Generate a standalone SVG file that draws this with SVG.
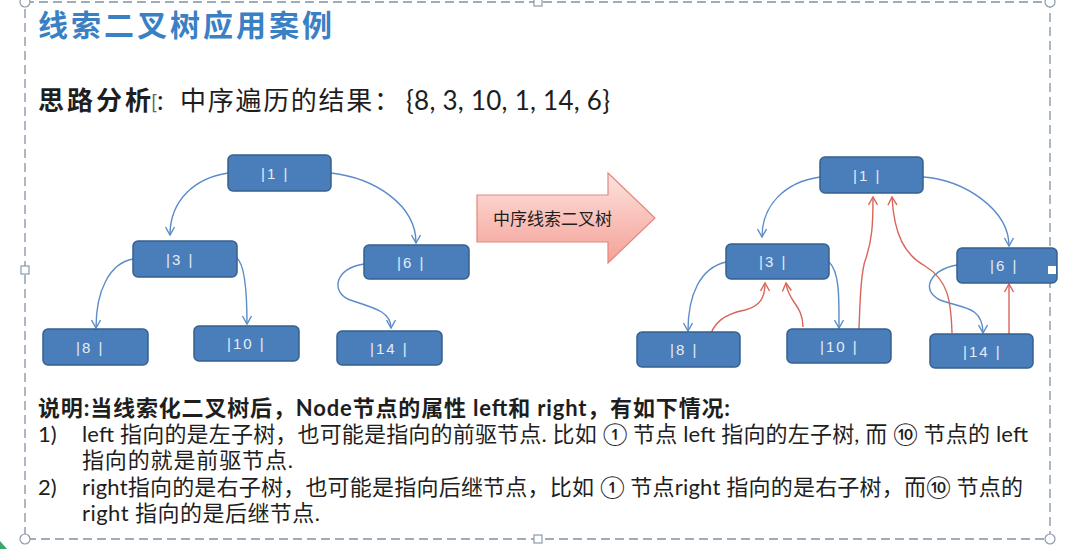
<svg xmlns="http://www.w3.org/2000/svg" width="1065" height="549" viewBox="0 0 1065 549">
<style>
  .node { fill: #4A7EBB; stroke: #36608F; stroke-width: 1.5; }
  .ntxt { font-family: "Liberation Sans", Arial, sans-serif; font-size: 15px; fill: #E4ECF6; letter-spacing: 2px; }
  .blue { fill: none; stroke: #5B8CC8; stroke-width: 1.4; marker-end: url(#ab); }
  .red { fill: none; stroke: #D8655A; stroke-width: 1.4; marker-end: url(#ar); }
  .cjk { font-family: Lato, "Noto Sans CJK SC", sans-serif; }
  .desc { font-family: Lato, "Noto Sans CJK SC", sans-serif; font-size: 22px; fill: #1E1E1E; }
  .handle { fill: #FFFFFF; stroke: #8A9BAB; stroke-width: 1.2; }
</style>
<defs>
  <marker id="ab" markerUnits="userSpaceOnUse" markerWidth="12" markerHeight="12" refX="9" refY="5" orient="auto">
    <path d="M1,0.5 L9,5 L1,9.5" fill="none" stroke="#5B8CC8" stroke-width="1.4"/>
  </marker>
  <marker id="ar" markerUnits="userSpaceOnUse" markerWidth="12" markerHeight="12" refX="9" refY="5" orient="auto">
    <path d="M1,0.5 L9,5 L1,9.5" fill="none" stroke="#D8655A" stroke-width="1.4"/>
  </marker>
  <linearGradient id="pink" x1="0" y1="0" x2="0" y2="1">
    <stop offset="0" stop-color="#FDE3DF"/>
    <stop offset="0.5" stop-color="#F9C1BA"/>
    <stop offset="1" stop-color="#F4A198"/>
  </linearGradient>
</defs>
<rect x="0" y="0" width="1065" height="549" fill="#FFFFFF"/>

<g id="frame">
  <rect x="25" y="2" width="1025" height="537" fill="none" stroke="#7F93A6" stroke-width="1.3" stroke-dasharray="9,5"/>
</g>

<g id="title">
  <text x="38" y="36" class="cjk" font-size="30" font-weight="bold" fill="#3A80C4" textLength="294" lengthAdjust="spacing">线索二叉树应用案例</text>
</g>

<g id="analysis">
  <text x="38" y="110" class="cjk" font-size="26" font-weight="bold" fill="#1E1E1E" textLength="113" lengthAdjust="spacing">思路分析</text>
  <text x="151" y="109" class="cjk" font-size="20" fill="#666666">[</text>
  <text x="157" y="110" class="cjk" font-size="26" fill="#1E1E1E">:</text>
  <text x="180" y="110" class="cjk" font-size="26" fill="#1E1E1E" textLength="220" lengthAdjust="spacing">中序遍历的结果：</text>
  <text x="406" y="110" class="cjk" font-size="26" fill="#1E1E1E" textLength="204" lengthAdjust="spacing">{8, 3, 10, 1, 14, 6}</text>
</g>

<g id="connectors">
  <!-- left tree -->
  <path class="blue" d="M228,173 C195,178 170,200 170,235"/>
  <path class="blue" d="M331,173 C375,178 416,205 416,243"/>
  <path class="blue" d="M133,259 C110,263 96,290 96,328"/>
  <path class="blue" d="M237,258 C245,265 247,290 247,324"/>
  <path class="blue" d="M364,264 C335,268 330,292 350,300 C375,308 391,312 391,328"/>
  <!-- right tree -->
  <path class="blue" d="M820,177 C785,182 762,205 762,237"/>
  <path class="blue" d="M923,177 C965,180 1009,210 1009,246"/>
  <path class="blue" d="M726,262 C700,268 688,295 688,331"/>
  <path class="blue" d="M829,262 C840,272 839,300 839,328"/>
  <path class="blue" d="M957,265 C930,270 920,290 940,300 C960,308 983,305 983,333"/>
  <path class="red" d="M708,343 C712,322 725,314 745,310 C760,306 765,298 765,283"/>
  <path class="red" d="M803,327 C803,305 788,302 786,283"/>
  <path class="red" d="M859,329 C860,300 861,270 866,258 C872,240 873,225 873,197"/>
  <path class="red" d="M952,333 C951,300 948,280 925,266 C905,255 894,235 892,197"/>
  <path class="red" d="M1009,342 L1009,284"/>
</g>

<g id="arrow">
  <polygon points="477,195 608,195 608,173 655,218 608,263 608,242 477,242" fill="url(#pink)" stroke="#E2887E" stroke-width="1.2"/>
  <text x="493" y="225" class="cjk" font-size="17" fill="#1E1E1E" textLength="119" lengthAdjust="spacing">中序线索二叉树</text>
</g>

<g id="node-l1"><rect class="node" x="228" y="155" width="103" height="36" rx="5"/><text class="ntxt" x="261" y="179">|1 |</text></g>
<g id="node-l3"><rect class="node" x="133" y="241" width="104" height="36" rx="5"/><text class="ntxt" x="166" y="265">|3 |</text></g>
<g id="node-l6"><rect class="node" x="364" y="245" width="105" height="34" rx="5"/><text class="ntxt" x="397" y="268">|6 |</text></g>
<g id="node-l8"><rect class="node" x="43" y="329" width="105" height="36" rx="5"/><text class="ntxt" x="76" y="353">|8 |</text></g>
<g id="node-l10"><rect class="node" x="194" y="326" width="105" height="35" rx="5"/><text class="ntxt" x="227" y="349">|10 |</text></g>
<g id="node-l14"><rect class="node" x="337" y="331" width="105" height="34" rx="5"/><text class="ntxt" x="370" y="354">|14 |</text></g>

<g id="node-r1"><rect class="node" x="820" y="157" width="103" height="36" rx="5"/><text class="ntxt" x="853" y="181">|1 |</text></g>
<g id="node-r3"><rect class="node" x="726" y="244" width="103" height="35" rx="5"/><text class="ntxt" x="759" y="267">|3 |</text></g>
<g id="node-r6"><rect class="node" x="957" y="248" width="100" height="35" rx="5"/><text class="ntxt" x="990" y="271">|6 |</text></g>
<g id="node-r8"><rect class="node" x="637" y="332" width="103" height="35" rx="5"/><text class="ntxt" x="670" y="355">|8 |</text></g>
<g id="node-r10"><rect class="node" x="787" y="329" width="104" height="34" rx="5"/><text class="ntxt" x="820" y="352">|10 |</text></g>
<g id="node-r14"><rect class="node" x="930" y="334" width="103" height="34" rx="5"/><text class="ntxt" x="963" y="357">|14 |</text></g>

<g id="description">
  <text x="38" y="416" class="desc" font-weight="bold" textLength="692" lengthAdjust="spacing">说明:当线索化二叉树后，Node节点的属性 left和 right，有如下情况:</text>
  <text x="38" y="442" class="desc">1)</text>
  <text x="82" y="442" class="desc" textLength="946" lengthAdjust="spacing">left 指向的是左子树，也可能是指向的前驱节点. 比如 ① 节点 left 指向的左子树, 而 ⑩ 节点的 left</text>
  <text x="82" y="468" class="desc" textLength="211" lengthAdjust="spacing">指向的就是前驱节点.</text>
  <text x="38" y="495" class="desc">2)</text>
  <text x="82" y="495" class="desc" textLength="941" lengthAdjust="spacing">right指向的是右子树，也可能是指向后继节点，比如 ① 节点right 指向的是右子树，而⑩ 节点的</text>
  <text x="82" y="521" class="desc" textLength="238" lengthAdjust="spacing">right 指向的是后继节点.</text>
</g>

<g id="handles">
  <circle class="handle" cx="25" cy="2" r="5"/>
  <rect class="handle" x="534" y="-2" width="8" height="8"/>
  <circle class="handle" cx="1050" cy="2" r="5"/>
  <rect class="handle" x="21" y="266" width="8" height="8"/>
  <rect x="1048" y="266" width="8" height="8" fill="#FFFFFF"/>
  <circle class="handle" cx="25" cy="539" r="5"/>
  <rect class="handle" x="534" y="535" width="8" height="8"/>
  <circle class="handle" cx="1050" cy="539" r="5"/>
  <polygon points="0,541 7,549 0,549" fill="#3BA56A"/>
</g>
</svg>
